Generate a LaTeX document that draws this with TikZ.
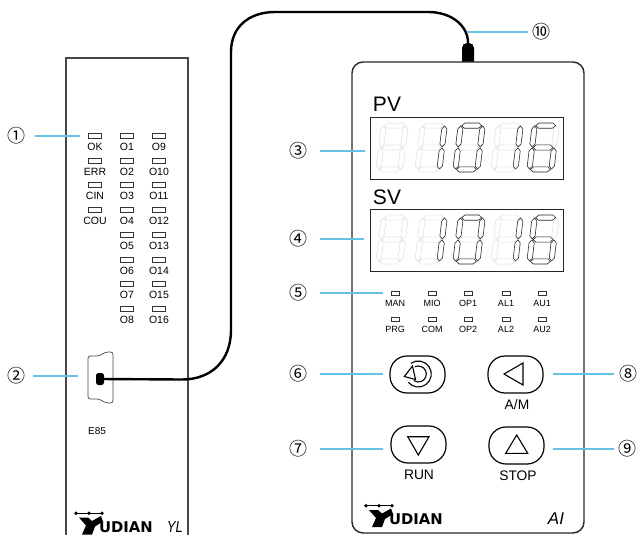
\documentclass[tikz,border=0pt]{standalone}
\usepackage{fontspec}
\setmainfont{Liberation Sans}
\newfontfamily\numfont{Noto Sans CJK JP}
\newfontfamily\logofont{DejaVu Sans}
\usepackage{tikz}
\usetikzlibrary{positioning}
\definecolor{leaderblue}{RGB}{100,195,230}
\definecolor{framegray}{RGB}{70,70,70}
\newcommand{\hseg}[1]{\path[seglook] (4,#1)--(7,#1-2.6)--(21,#1-2.6)--(24,#1)--(21,#1+2.6)--(7,#1+2.6)--cycle;}
\newcommand{\vseg}[3]{\path[seglook] (#1,#2)--(#1+2.6,#2+3)--(#1+2.6,#3-3)--(#1,#3)--(#1-2.6,#3-3)--(#1-2.6,#2+3)--cycle;}
\def\sega{\hseg{2.6}}
\def\segb{\vseg{25}{3}{24}}
\def\segc{\vseg{25}{25}{46}}
\def\segd{\hseg{46.4}}
\def\sege{\vseg{3}{25}{46}}
\def\segf{\vseg{3}{3}{24}}
\def\segg{\hseg{24.5}}
\newcommand{\segdigit}[3]{%
  \begin{scope}[shift={(#1,#2)},xslant=0.12]
    \begin{scope}[seglook/.style={draw=black!13,line width=0.5pt}]
      \foreach \s in {a,b,c,d,e,f,g} {\csname seg\s\endcsname}
    \end{scope}
    \begin{scope}[seglook/.style={draw=black!80,line width=0.6pt}]
      \foreach \s in {#3} {\csname seg\s\endcsname}
    \end{scope}
  \end{scope}}
\newcommand{\yudianlogo}[3]{%
  \begin{scope}[shift={(#1,#2)}]
    \draw[line width=1pt] (366,505.7) -- (392,505.7);
    \foreach \d in {366,379,392} {\fill (\d,505.7) circle (1.9pt);}
    \fill (369,510)--(378,510)--(382,513.5)--(391,508.5)--(393,514)--(385,519)--(382,527)--(372,527)--(376,518)--cycle;
    \node[font=\logofont\bfseries\fontsize{14.8}{16}\selectfont, inner sep=0pt] (#3) at (416,519.5) {UDIAN};
  \end{scope}}
\begin{document}
\begin{tikzpicture}[
    x=1pt, y=-1pt,
    leader/.style={draw=leaderblue, line width=1.3pt},
    marker/.style={font=\numfont\fontsize{18}{20}\selectfont, inner sep=0pt},
    ledtext/.style={font=\fontsize{10.5}{12}\selectfont, inner sep=0pt},
    ledbox/.style={draw=black!80, line width=0.5pt, minimum width=13pt, minimum height=5pt, inner sep=0pt},
    panelled/.style={draw=black!80, line width=0.5pt, minimum width=8.5pt, minimum height=4pt, inner sep=0pt},
    paneltext/.style={font=\fontsize{9}{11}\selectfont, inner sep=0pt},
    display/.style={draw=black!85, line width=1pt, minimum width=193pt, minimum height=62pt, inner sep=0pt},
    keybox/.style={draw=black, line width=1.2pt, rounded corners=17pt, minimum width=55pt, minimum height=37pt, inner sep=0pt},
    keytext/.style={font=\fontsize{13.8}{16}\selectfont, inner sep=0pt},
    keysign/.style={draw=black, line width=1.1pt, line join=miter},
    cable/.style={draw=black, line width=2.4pt},
    plug/.style={fill=black, inner sep=0pt}
]
\useasboundingbox (0,0) rectangle (637,535);

\draw[draw=framegray, line width=1.3pt] (66,535) -- (66,58) -- (188,58) -- (188,535);
\node[plug, minimum width=12pt, minimum height=24pt, rounded corners=5pt] (topplug) at (468,55) {};
\node[draw=black!85, fill=white, line width=1.4pt, rounded corners=11pt, minimum width=232pt, minimum height=471pt, inner sep=0pt] (panel) at (468,297.5) {};

\foreach \name/\x/\y in {OK/95/147, ERR/95/172, CIN/95/196, COU/95/221,
    O1/127/147, O2/127/172, O3/127/196, O4/127/221, O5/127/246, O6/127/271, O7/127/295, O8/127/320,
    O9/159/147, O10/159/172, O11/159/196, O12/159/221, O13/159/246, O14/159/271, O15/159/295, O16/159/320} {
  \node[ledtext] (\name) at (\x,\y) {\name};
  \node[ledbox, above=4.5pt of \name] (led\name) {};
}

\draw[draw=framegray, line width=0.7pt, rounded corners=2.5pt] (88,356) -- (99,356) -- (106,352) -- (113,352) -- (113,403) -- (106,403) -- (99,399) -- (88,399) -- cycle;
\node[plug, minimum width=8pt, minimum height=12pt, rounded corners=2.5pt] (sideplug) at (100,379) {};
\node[font=\fontsize{10}{12}\selectfont, inner sep=0pt] (e85) at (97,431) {E85};
\yudianlogo{-290}{7.5}{logoleft}
\node[font=\itshape\fontsize{16}{18}\selectfont, inner sep=0pt, xscale=0.82] (yl) at (175,527) {YL};

\draw[cable] (sideplug.center) -- (182,379.5) .. controls (212,379.5) and (231,360) .. (231,330) -- (231,52) .. controls (231,26) and (250,12) .. (275,12) -- (428,12) .. controls (452,12) and (468,26) .. (topplug.north);

\node[font=\fontsize{21}{24}\selectfont, inner sep=0pt] (pv) at (387,104.5) {PV};
\node[font=\fontsize{21}{24}\selectfont, inner sep=0pt] (sv) at (387,197.5) {SV};
\node[display] (pvbox) at (466.5,148) {};
\node[display] (svbox) at (466.5,240) {};
\foreach \rowy in {123,215} {
  \segdigit{381}{\rowy}{}
  \segdigit{420}{\rowy}{b,c}
  \segdigit{458}{\rowy}{a,b,c,d,e,f}
  \segdigit{496}{\rowy}{b,c}
  \segdigit{532}{\rowy}{a,c,d,e,f,g}
}

\foreach \name/\x/\y in {MAN/395/303, MIO/432/303, OP1/468/303, AL1/506/303, AU1/542/303,
    PRG/395/329, COM/432/329, OP2/468/329, AL2/506/329, AU2/542/329} {
  \node[paneltext] (\name) at (\x,\y) {\name};
  \node[panelled, above=4.5pt of \name] (led\name) {};
}

\node[keybox] (rotkey) at (417.5,374.5) {};
\node[keybox] (amkey) at (515.5,374.5) {};
\node[keybox] (runkey) at (418.5,444.5) {};
\node[keybox] (stopkey) at (516.5,445.5) {};
\draw[keysign] (418.3,374) ++(125:13pt) arc[start angle=125, end angle=-140, radius=13pt];
\draw[keysign] (418.3,374) ++(115:8pt) arc[start angle=115, end angle=-125, radius=8pt];
\draw[keysign] (404.3,376.5) -- (412.5,366) -- (415.5,379.5) -- cycle;
\draw[keysign] (504,374) -- (523,363) -- (523,385) -- cycle;
\draw[keysign] (407.7,436.7) -- (429,436.7) -- (418.3,455) -- cycle;
\draw[keysign] (516.7,435) -- (505.7,453.3) -- (527.7,453.3) -- cycle;
\node[keytext] (amtext) at (517,405) {A/M};
\node[keytext] (runtext) at (419,474.5) {RUN};
\node[keytext] (stoptext) at (518,475.5) {STOP};
\yudianlogo{0}{0}{logoright}
\node[font=\itshape\fontsize{17}{20}\selectfont, inner sep=0pt] (ai) at (556,519) {AI};

\foreach \n/\mark/\x/\y/\ex/\gap in {1/①/17/136/80/18, 2/②/17/376/78/16, 3/③/298/151/365/22, 4/④/298/239/364/22, 5/⑤/298/293/383/22,
    6/⑥/298/374/383/22, 7/⑦/298/449/383/22, 8/⑧/628/374/553/14, 9/⑨/627/449/553/13, 10/⑩/541/32/467/13} {
  \node[marker] (num\n) at (\x,\y) {\mark};
  \coordinate (end\n) at (\ex,\y);
  \draw[leader, shorten <=\gap pt] (num\n.center) -- (end\n);
}
\end{tikzpicture}
\end{document}
